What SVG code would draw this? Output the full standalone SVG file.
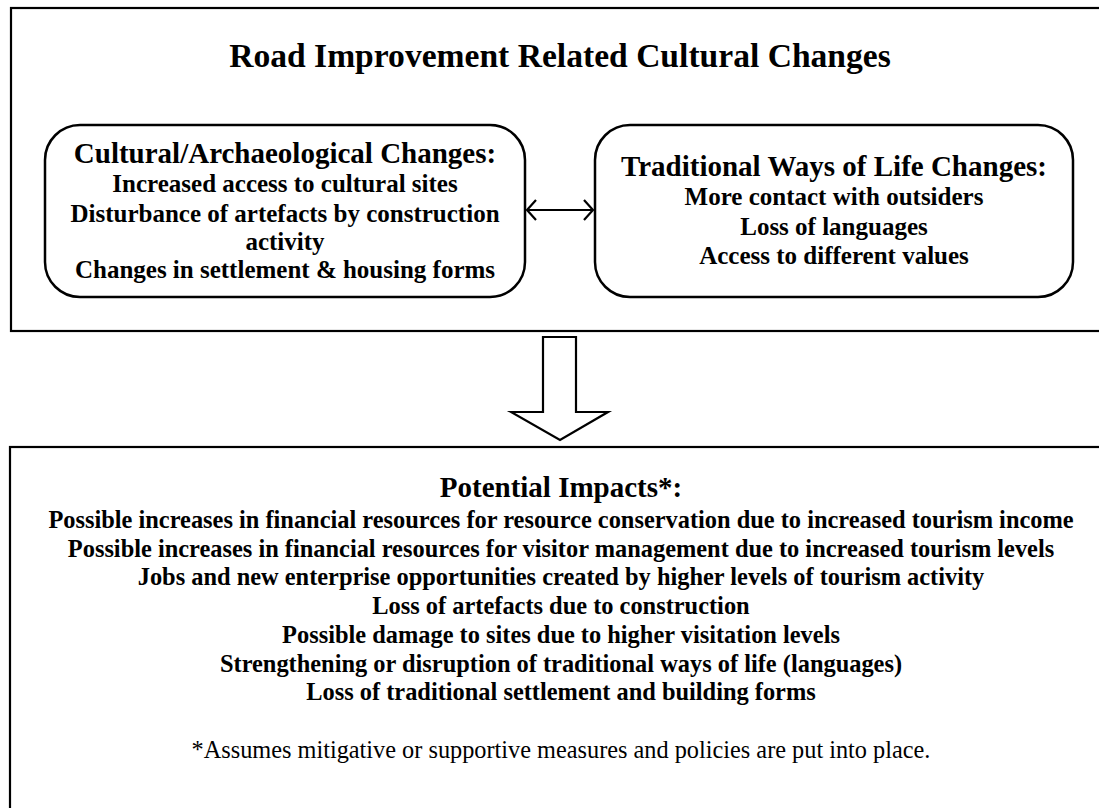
<svg xmlns="http://www.w3.org/2000/svg" width="1099" height="808" viewBox="0 0 1099 808">
  <style>
    .frame { fill: none; stroke: #000; stroke-width: 2.2; }
    .node { fill: #fff; stroke: #000; stroke-width: 2.5; }
    .t { font-family: "Liberation Serif", "Times New Roman", serif; font-weight: bold; fill: #000; text-anchor: middle; }
    .title { font-size: 33.6px; }
    .head { font-size: 29px; }
    .body { font-size: 25px; }
    .bbody { font-size: 24.4px; }
    .note { font-family: "Liberation Serif", "Times New Roman", serif; font-size: 24.3px; fill: #000; text-anchor: middle; }
    .link { fill: none; stroke: #000; stroke-width: 2.2; }
  </style>

  <rect width="1099" height="808" fill="#fff"/>

  <!-- upper panel -->
  <g id="changes-panel">
    <rect class="frame" x="11" y="8" width="1100" height="323"/>
    <text class="t title" x="560" y="67">Road Improvement Related Cultural Changes</text>
  </g>

  <g id="cultural-archaeological">
    <rect class="node" x="45" y="125" width="480" height="172" rx="35" ry="35"/>
    <text class="t head" x="285" y="163">Cultural/Archaeological Changes:</text>
    <text class="t body" x="285" y="192">Increased access to cultural sites</text>
    <text class="t body" x="285" y="222">Disturbance of artefacts by construction</text>
    <text class="t body" x="285" y="250">activity</text>
    <text class="t body" x="285" y="278">Changes in settlement &amp; housing forms</text>
  </g>

  <g id="traditional-ways">
    <rect class="node" x="595" y="125" width="478" height="172" rx="35" ry="35"/>
    <text class="t head" x="834" y="176">Traditional Ways of Life Changes:</text>
    <text class="t body" x="834" y="205">More contact with outsiders</text>
    <text class="t body" x="834" y="235">Loss of languages</text>
    <text class="t body" x="834" y="264">Access to different values</text>
  </g>

  <!-- connectors -->
  <g id="connectors">
    <line class="link" x1="527" y1="210" x2="593" y2="210"/>
    <polyline class="link" points="536,200 527,210 536,220"/>
    <polyline class="link" points="584,200 593,210 584,220"/>
    <polygon class="frame" points="543,337 576,337 576,412 608,412 560,440 511,412 543,412"/>
  </g>

  <!-- lower panel -->
  <g id="potential-impacts">
    <rect class="frame" x="10" y="447" width="1100" height="380"/>
    <text class="t head" x="561" y="497">Potential Impacts*:</text>
    <text class="t bbody" x="561" y="528">Possible increases in financial resources for resource conservation due to increased tourism income</text>
    <text class="t bbody" x="561" y="557">Possible increases in financial resources for visitor management due to increased tourism levels</text>
    <text class="t bbody" x="561" y="585">Jobs and new enterprise opportunities created by higher levels of tourism activity</text>
    <text class="t bbody" x="561" y="614">Loss of artefacts due to construction</text>
    <text class="t bbody" x="561" y="643">Possible damage to sites due to higher visitation levels</text>
    <text class="t bbody" x="561" y="672">Strengthening or disruption of traditional ways of life (languages)</text>
    <text class="t bbody" x="561" y="700">Loss of traditional settlement and building forms</text>
    <text class="note" x="561" y="758">*Assumes mitigative or supportive measures and policies are put into place.</text>
  </g>
</svg>
